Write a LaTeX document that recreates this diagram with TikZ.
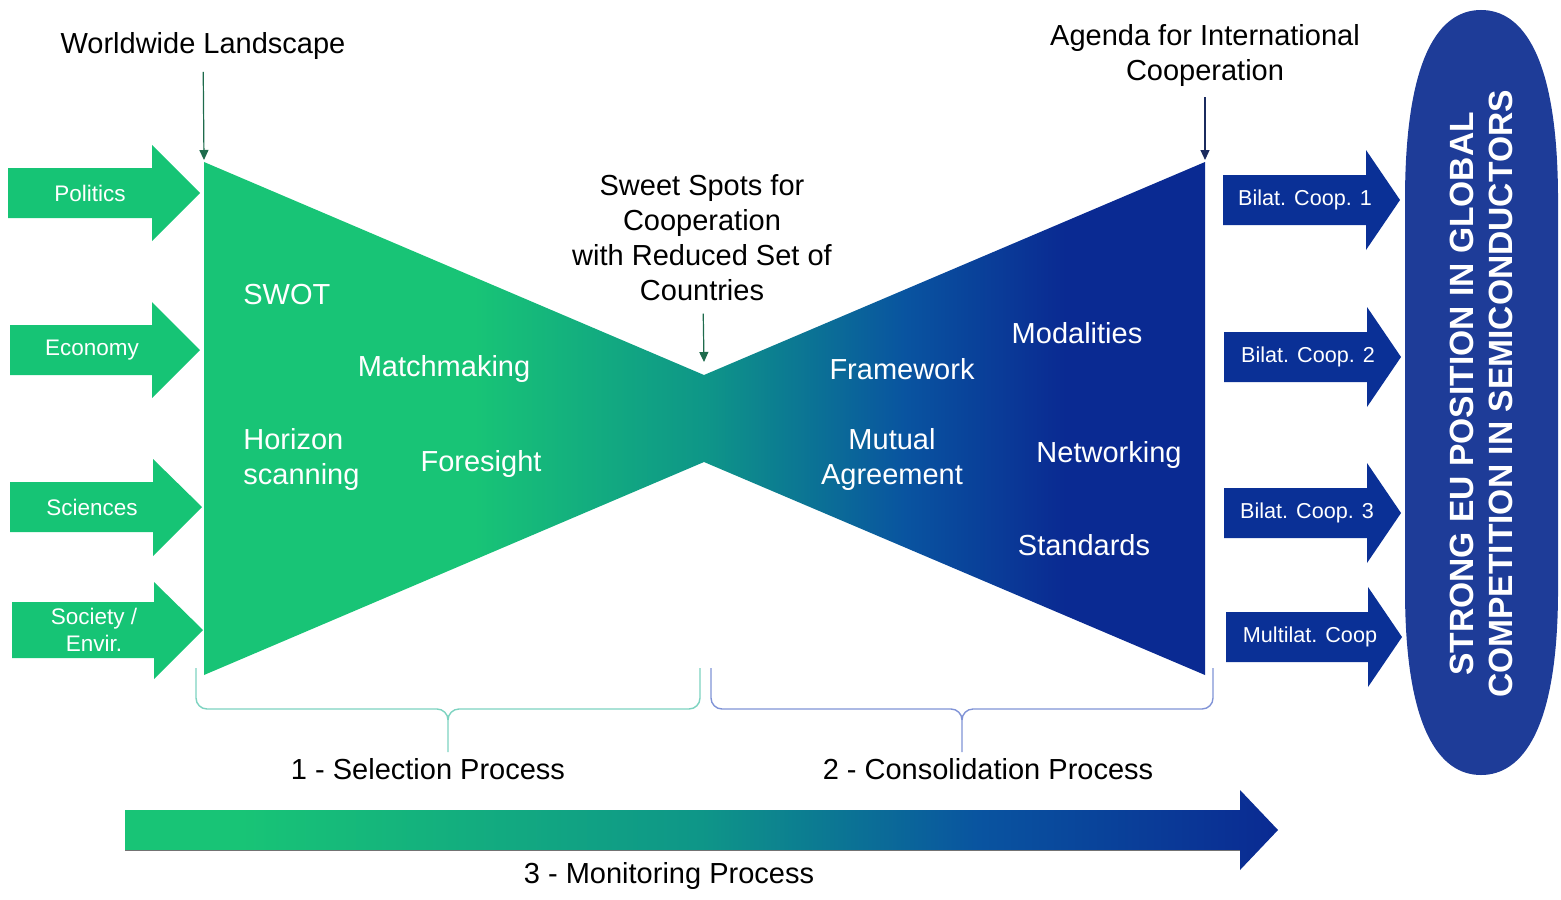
\documentclass[tikz,border=0pt]{standalone}
\usepackage{fontspec}
\setmainfont{Liberation Sans}
\usetikzlibrary{arrows.meta}
\definecolor{cG}{RGB}{24,196,118}
\definecolor{cT}{RGB}{14,150,136}
\definecolor{cB1}{RGB}{9,84,160}
\definecolor{cB2}{RGB}{10,42,146}
\definecolor{cArrG}{RGB}{22,196,117}
\definecolor{cArrB}{RGB}{10,48,150}
\definecolor{cEll}{RGB}{30,60,152}
\definecolor{cDG}{RGB}{30,107,76}
\definecolor{cNavy}{RGB}{27,43,94}
\definecolor{cBrG}{RGB}{125,211,192}
\definecolor{cBrB}{RGB}{128,147,214}
\pgfdeclarehorizontalshading{bowtieshade}{100bp}{color(0bp)=(cG); color(38.5bp)=(cG); color(50bp)=(cT); color(60bp)=(cB1); color(68bp)=(cB2); color(100bp)=(cB2)}
\pgfdeclarehorizontalshading{monshade}{100bp}{color(0bp)=(cG); color(30bp)=(cG); color(50bp)=(cT); color(62bp)=(cB1); color(75bp)=(cB2); color(100bp)=(cB2)}
\begin{document}
\begin{tikzpicture}[x=0.5pt,y=-0.5pt,
  lbl/.style={font=\fontsize{14.5}{17.5}\selectfont, align=center, inner sep=0pt},
  inlbl/.style={lbl, text=white},
  arrlbl/.style={font=\fontsize{11.25}{13.5}\selectfont, text=white, align=center, inner sep=0pt},
  blbl/.style={arrlbl, font=\fontsize{10.8}{13}\selectfont},
  greenarrow/.style={fill=cArrG},
  bluearrow/.style={fill=cArrB},
  pointer/.style={-{Triangle[length=5pt,width=4.5pt]}, line width=0.6pt},
  bracestyle/.style={line width=0.7pt}
]
\useasboundingbox (0,0) rectangle (1561,899);

% bow tie
\shade[shading=bowtieshade] (204,162) -- (704,375) -- (1205,162) -- (1205,675) -- (704,462) -- (204,675) -- cycle;
\coordinate (worldtip) at (204,160);
\coordinate (agendatip) at (1205,160);
\coordinate (sweettip) at (704,362);

% left input arrows
\fill[greenarrow] (8,168) -- (152,168) -- (152,145) -- (200,193) -- (152,241) -- (152,218) -- (8,218) -- cycle;
\fill[greenarrow] (10,325) -- (152,325) -- (152,302) -- (200,350) -- (152,398) -- (152,375) -- (10,375) -- cycle;
\fill[greenarrow] (10,482) -- (153,482) -- (153,459) -- (202,507) -- (153,556) -- (153,532) -- (10,532) -- cycle;
\fill[greenarrow] (12,602) -- (154,602) -- (154,582) -- (203,630) -- (154,679) -- (154,658) -- (12,658) -- cycle;
\node[arrlbl] (politics) at (90,193) {Politics};
\node[arrlbl] (economy) at (92,350) {Economy};
\node[arrlbl] (sciences) at (92,507) {Sciences};
\node[arrlbl] (society) at (94,630) {Society /\\Envir.};

% right output arrows
\fill[bluearrow] (1223,175) -- (1366,175) -- (1366,150) -- (1400,200) -- (1366,250) -- (1366,225) -- (1223,225) -- cycle;
\fill[bluearrow] (1224,332) -- (1367,332) -- (1367,307) -- (1401,357) -- (1367,407) -- (1367,382) -- (1224,382) -- cycle;
\fill[bluearrow] (1224,488) -- (1367,488) -- (1367,463) -- (1401,513) -- (1367,563) -- (1367,538) -- (1224,538) -- cycle;
\fill[bluearrow] (1226,612) -- (1368,612) -- (1368,587) -- (1402,637) -- (1368,687) -- (1368,662) -- (1226,662) -- cycle;
\node[blbl] (b1) at (1305,200) {Bilat. Coop. 1};
\node[blbl] (b2) at (1308,357) {Bilat. Coop. 2};
\node[blbl] (b3) at (1307,513) {Bilat. Coop. 3};
\node[blbl] (ml) at (1310,637) {Multilat. Coop};

% goal ellipse
\fill[cEll] (1405,392) -- (1405,200) .. controls (1405,55) and (1440,10) .. (1481,10)
  .. controls (1522,10) and (1558,55) .. (1558,200) -- (1558,590)
  .. controls (1558,730) and (1522,775) .. (1481,775)
  .. controls (1440,775) and (1405,730) .. (1405,590) -- cycle;
\node[rotate=90, text=white, align=center, inner sep=0pt,
  font=\bfseries\fontsize{16.8}{19.5}\selectfont] (goal) at (1481,394)
  {STRONG EU POSITION IN GLOBAL\\COMPETITION IN SEMICONDUCTORS};

% top labels and pointers
\node[lbl] (world) at (203,46) {Worldwide Landscape};
\node[lbl] (agenda) at (1205,56) {Agenda for International\\Cooperation};
\node[lbl] (sweet) at (702,238) {Sweet Spots for\\Cooperation\\with Reduced Set of\\Countries};
\draw[pointer, draw=cDG, fill=cDG, shorten <=6pt] (world) -- (worldtip);
\draw[pointer, draw=cNavy, fill=cNavy, shorten <=5pt] (agenda) -- (agendatip);
\draw[pointer, draw=cDG, fill=cDG, shorten <=6pt] (sweet) -- (sweettip);

% inner labels
\node[inlbl, anchor=west] (swot) at (243,295) {SWOT};
\node[inlbl] (match) at (444,369) {Matchmaking};
\node[inlbl, anchor=west, align=left] (horizon) at (243,459) {Horizon\\scanning};
\node[inlbl] (foresight) at (481,464) {Foresight};
\node[inlbl] (framework) at (902,369) {Framework};
\node[inlbl] (modal) at (1077,333) {Modalities};
\node[inlbl] (mutual) at (892,459) {Mutual\\Agreement};
\node[inlbl] (network) at (1109,455) {Networking};
\node[inlbl] (standards) at (1084,545) {Standards};

% braces
\draw[bracestyle, cBrG] (196,668) -- (196,698) to[out=-90,in=180] (207,709) -- (437,709) to[out=0,in=90] (448,720) -- (448,752);
\draw[bracestyle, cBrG] (700,668) -- (700,698) to[out=-90,in=0] (689,709) -- (459,709) to[out=180,in=90] (448,720);
\draw[bracestyle, cBrB] (711,668) -- (711,698) to[out=-90,in=180] (722,709) -- (951,709) to[out=0,in=90] (962,720) -- (962,752);
\draw[bracestyle, cBrB] (1213,668) -- (1213,698) to[out=-90,in=0] (1202,709) -- (973,709) to[out=180,in=90] (962,720);

\node[lbl] (sel) at (428,769) {1 - Selection Process};
\node[lbl] (cons) at (988,769) {2 - Consolidation Process};

% monitoring arrow
\shade[shading=monshade] (125,810) -- (1240,810) -- (1240,790) -- (1278,830) -- (1240,870) -- (1240,850) -- (125,850) -- cycle;
\draw[line width=0.5pt, black!55] (125,850) -- (1240,850);
\node[lbl] (mon) at (669,876) {3 - Monitoring Process};
\end{tikzpicture}
\end{document}
